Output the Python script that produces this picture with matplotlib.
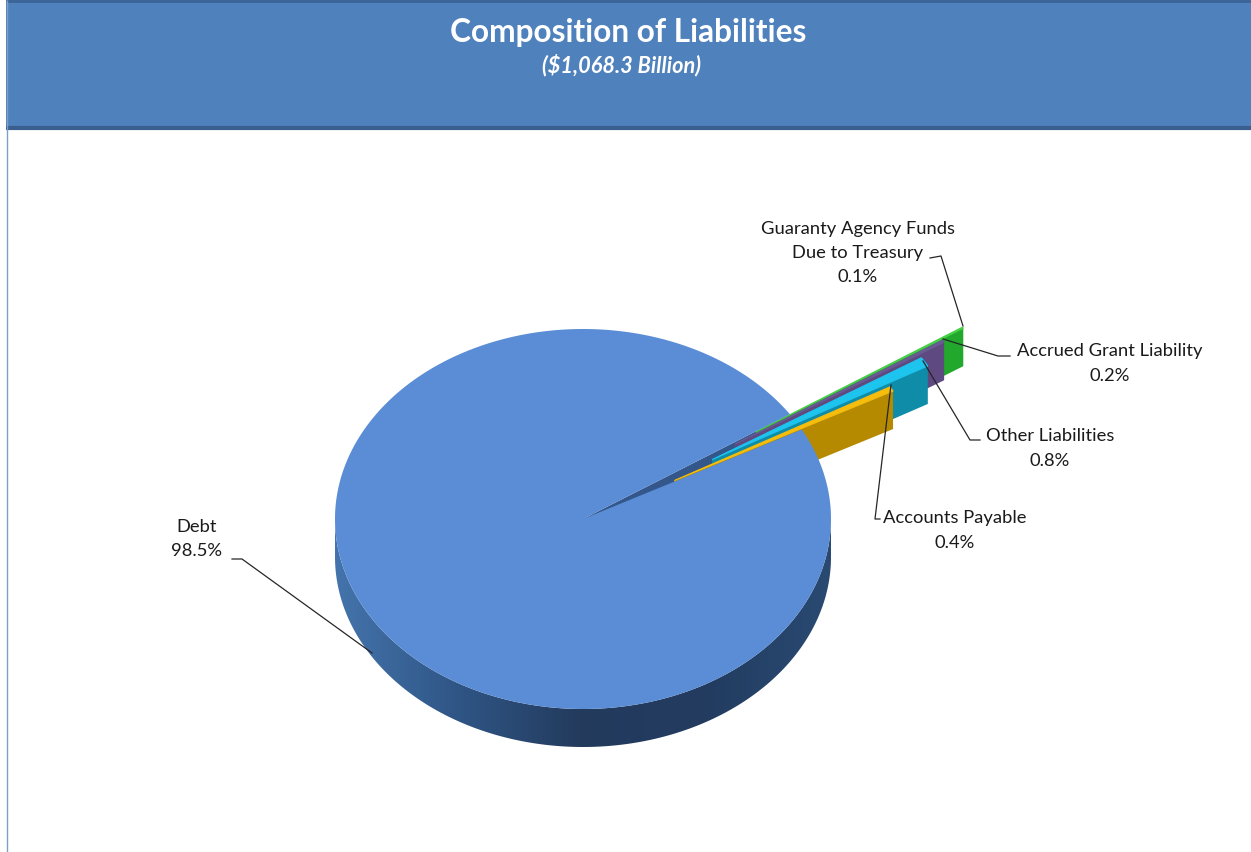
import numpy as np
import matplotlib
matplotlib.use("Agg")
import matplotlib.pyplot as plt
from matplotlib.colors import LinearSegmentedColormap
from matplotlib.patches import Polygon

plt.rcParams['font.family'] = ['Lato', 'DejaVu Sans']

title = "Composition of Liabilities"
subtitle = "($1,068.3 Billion)"

# shares in percent, clockwise from the start of Debt
categories = ["Debt", "Guaranty Agency Funds\nDue to Treasury", "Accrued Grant Liability", "Other Liabilities", "Accounts Payable"]
shares = [98.5, 0.1, 0.2, 0.8, 0.4]

# how far each slice is pulled out, in pie radii
explode = [0, 0.833, 0.728, 0.607, 0.42]
top_colors = ["#5a8dd6", "#45d045", "#6a5a94", "#1cc4ee", "#f6bd0c"]
wall_colors = ["#2f5080", "#22a82c", "#5e4a80", "#0f8ca8", "#b58a00"]

# pie geometry in pixels
cx, cy = 583, 520
rx, ry = 248, 190
depth = 38
start_angle = 28.1


def point(r, ang, ox=0, oy=0):
    a = np.radians(ang)
    return cx + ox + r * rx * np.cos(a), cy + oy - r * ry * np.sin(a)


fig = plt.figure(figsize=(12.51, 8.53), dpi=100, facecolor="white")
ax = fig.add_axes([0, 0, 1, 1])
ax.axis("off")

# header band
ax.fill([6, 1251, 1251, 6], [1, 1, 130, 130], color="#4f81bd", lw=0, zorder=1)
ax.plot([6, 1251], [2, 2], color="#3b6496", lw=2, solid_capstyle="butt", zorder=2)
ax.plot([6, 1251], [128.5, 128.5], color="#3a5f8f", lw=3, solid_capstyle="butt", zorder=2)
ax.plot([6.5, 6.5], [1, 853], color="#7da0c6", lw=1, solid_capstyle="butt", zorder=2)
ax.text(628, 32, title, color="white", fontsize=22.8, fontweight="bold", ha="center", va="center", zorder=3)
ax.text(621, 65, subtitle, color="white", fontsize=15.7, fontweight="bold", style="italic", ha="center", va="center", zorder=3)

# slice angles from the shares, going clockwise
angles = start_angle - np.cumsum([0] + shares) * 3.6
debt_arc = np.linspace(angles[1], angles[0], 720)

# far wall of the gap left in the debt slice
x0, y0 = point(0, 0)
x1, y1 = point(1, angles[1])
ax.fill([x0, x1, x1, x0], [y0, y1, y1 + depth, y0 + depth], color="#33578a", lw=0, zorder=4)

# pulled-out slices, back to front
z = 5
for i in range(1, len(shares)):
    mid = (angles[i] + angles[i + 1]) / 2
    ox = explode[i] * rx * np.cos(np.radians(mid))
    oy = -explode[i] * ry * np.sin(np.radians(mid))
    ax0, ay0 = point(0, 0, ox, oy)
    ex, ey = point(1, angles[i + 1], ox, oy)
    ax.fill([ax0, ex, ex, ax0], [ay0, ey, ey + depth, ay0 + depth], color=wall_colors[i], lw=0, zorder=z)
    arc = np.linspace(angles[i + 1], angles[i], 8)
    px, py = point(1, arc, ox, oy)
    ax.fill(np.r_[ax0, px], np.r_[ay0, py], color=top_colors[i], lw=0.8, zorder=z + 1)
    z += 2

# rim of the debt slice, shaded left to right
rim = LinearSegmentedColormap.from_list("rim", ["#4474ac", "#2f5585", "#233a5c", "#223c60", "#2a4a72"])
arc = np.linspace(180, 360, 181)
rim_x, rim_y = point(1, arc)
rim_shape = Polygon(np.c_[np.r_[rim_x, rim_x[::-1]], np.r_[rim_y, rim_y[::-1] + depth]],
                    closed=True, transform=ax.transData, fc="none", ec="none")
ax.add_patch(rim_shape)
shade = ax.imshow(np.linspace(0, 1, 256).reshape(1, -1), cmap=rim, aspect="auto",
                  extent=(cx - rx, cx + rx, cy + ry + depth, cy), zorder=z)
shade.set_clip_path(rim_shape)

# debt top face
px, py = point(1, debt_arc)
ax.fill(np.r_[x0, px], np.r_[y0, py], color=top_colors[0], lw=0, zorder=z + 1)

# leader lines
line_x = [[232, 242, 372], [930, 941, 963], [1010, 998, 943], [980, 970, 923], [880, 875, 891]]
line_y = [[560, 560, 654], [259, 257, 327], [357, 357, 340], [441, 441, 362], [520, 520, 386]]
for lx, ly in zip(line_x, line_y):
    ax.plot(lx, ly, color="#262626", lw=0.9, zorder=z + 2)

# data labels
label_x = [197, 858, 1110, 1050, 955]
label_y = [539, 253, 363.5, 448.5, 530.5]
for name, val, lx, ly in zip(categories, shares, label_x, label_y):
    ax.text(lx, ly, f"{name}\n{val}%", color="#1a1a1a", fontsize=13.2, ha="center", va="center",
            linespacing=1.62, zorder=z + 3)

ax.set_xlim(0, 1251)
ax.set_ylim(853, 0)
fig.savefig("out.png", dpi=100)
